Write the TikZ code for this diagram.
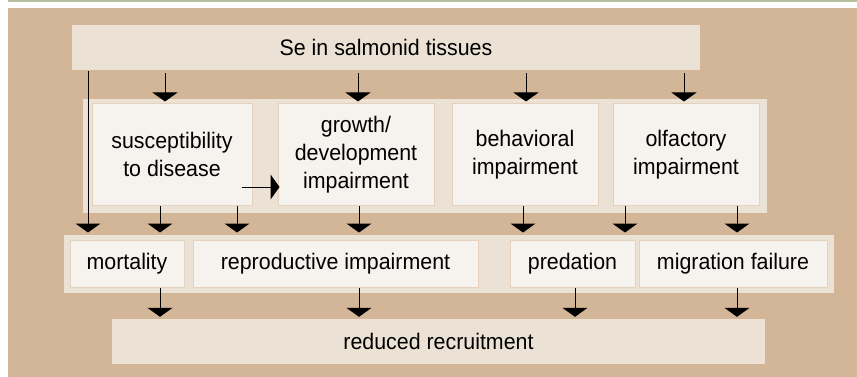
\documentclass[tikz,border=0pt]{standalone}
\usepackage{fontspec}
\setmainfont{Liberation Sans}[FakeStretch = 0.95]
\usetikzlibrary{arrows.meta}

\definecolor{stripColour}{RGB}{181,192,160}
\definecolor{tanColour}{RGB}{211,181,152}
\definecolor{panelColour}{RGB}{235,225,213}
\definecolor{cellColour}{RGB}{246,243,238}
\definecolor{edgeColour}{RGB}{229,210,188}

\begin{document}
\begin{tikzpicture}[x = 1pt, y = -1pt, > = {Triangle[width = 25pt, length = 9pt]},
	panel/.style = {fill = panelColour, inner sep = 0pt, font = \fontsize{22.5}{28}\selectfont},
	cell/.style = {fill = cellColour, draw = edgeColour, line width = 1pt, inner sep = 0pt,
		align = center, minimum height = 101pt, font = \fontsize{22.5}{28}\selectfont},
	effect/.style = {cell, minimum height = 47pt},
	link/.style = {->, line width = 1pt}]

	% Definitions
	
	\def\gapTop{2pt}	% Distance from arrow tip to a row of cells
	\def\gapLow{7pt}	% Distance from arrow tip to a cell inside the lower band
	
	% Frame
	
	\useasboundingbox (0, 0) rectangle (857, 377);
	\fill [white] (0, 0) rectangle (857, 377);
	\fill [stripColour] (8, 0) rectangle (857, 2.5);
	\fill [tanColour] (8, 8) rectangle (857, 377);
	
	% Bands
	
	\node [panel, minimum width = 684pt, minimum height = 114pt] (midBand) at (425, 156) {};
	\node [panel, minimum width = 770pt, minimum height = 58pt] (lowBand) at (449, 264) {};
	
	% Source and result
	
	\node [panel, minimum width = 628pt, minimum height = 45pt] (se) at (386, 47.5) {Se in salmonid tissues};
	\node [panel, minimum width = 653pt, minimum height = 45pt] (recr) at (438.5, 341.5) {reduced recruitment};
	
	% Direct effects
	
	\node [cell, minimum width = 160pt] (susc) at (172, 154.5) {susceptibility\\to disease};
	\node [cell, minimum width = 156pt] (grow) at (356, 154.5) {growth/\\development\\impairment};
	\node [cell, minimum width = 146pt] (behav) at (525, 154.5) {behavioral\\impairment};
	\node [cell, minimum width = 146pt] (olf) at (686, 154.5) {olfactory\\impairment};
	
	% Consequences
	
	\node [effect, minimum width = 114pt] (mort) at (127, 263.5) {mortality};
	\node [effect, minimum width = 285pt] (repro) at (335.5, 263.5) {reproductive impairment};
	\node [effect, minimum width = 125pt] (pred) at (572.5, 263.5) {predation};
	\node [effect, minimum width = 188pt] (migr) at (733, 263.5) {migration failure};
	
	% Arrows from Se
	
	\draw [link, shorten <= 3pt, shorten >= \gapTop] (se.south -| 165,0) -- (susc.north -| 165,0);
	\draw [link, shorten <= 3pt, shorten >= \gapTop] (se.south -| 358,0) -- (grow.north -| 358,0);
	\draw [link, shorten <= 3pt, shorten >= \gapTop] (se.south -| 526,0) -- (behav.north -| 526,0);
	\draw [link, shorten <= 3pt, shorten >= \gapTop] (se.south -| 684,0) -- (olf.north -| 684,0);
	\draw [link, shorten <= 1pt, shorten >= \gapLow] (se.south -| 88,0) -- (mort.north -| 88,0);
	
	% Disease feeds growth
	
	\draw [link] ([xshift = -11pt, yshift = -32.5pt] susc.east) -- ([xshift = 2pt, yshift = -32.5pt] grow.west);
	
	% Arrows to consequences
	
	\draw [link, shorten >= \gapLow] (susc.south -| 160,0) -- (mort.north -| 160,0);
	\draw [link, shorten >= \gapLow] (susc.south -| 237,0) -- (repro.north -| 237,0);
	\draw [link, shorten >= \gapLow] (grow.south -| 359,0) -- (repro.north -| 359,0);
	\draw [link, shorten >= \gapLow] (behav.south -| 523,0) -- (pred.north -| 523,0);
	\draw [link, shorten >= \gapLow] (olf.south -| 625,0) -- (pred.north -| 625,0);
	\draw [link, shorten >= \gapLow] (olf.south -| 737,0) -- (migr.north -| 737,0);
	
	% Arrows to recruitment
	
	\draw [link, shorten >= \gapTop] (mort.south -| 160,0) -- (recr.north -| 160,0);
	\draw [link, shorten >= \gapTop] (repro.south -| 359,0) -- (recr.north -| 359,0);
	\draw [link, shorten >= \gapTop] (pred.south -| 575,0) -- (recr.north -| 575,0);
	\draw [link, shorten >= \gapTop] (migr.south -| 737,0) -- (recr.north -| 737,0);

\end{tikzpicture}
\end{document}
